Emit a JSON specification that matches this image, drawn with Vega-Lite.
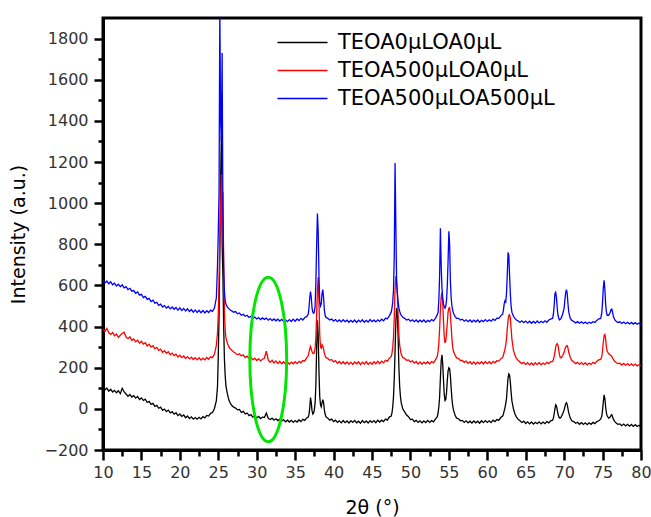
{
"$schema": "https://vega.github.io/schema/vega-lite/v6.json",
"width": 538, "height": 432,
"autosize": {"type": "none"},
"padding": {"left": 103, "top": 18, "right": 10, "bottom": 67},
"background": "white",
"config": {"view": {"stroke": "black", "strokeWidth": 3}, "font": "DejaVu Sans"},
"resolve": {"axis": {"x": "independent", "y": "independent"}},
"layer": [
{
"data": {"values": [
{"x":10,"k":104,"r":388,"b":626},{"x":10.25,"k":92,"r":376,"b":612},{"x":10.5,"k":101,"r":391,"b":621},{"x":10.75,"k":86,"r":370,"b":608},
{"x":11,"k":95,"r":362,"b":618},{"x":11.25,"k":82,"r":371,"b":603},{"x":11.5,"k":90,"r":355,"b":611},{"x":11.75,"k":78,"r":364,"b":597},
{"x":12,"k":88,"r":347,"b":606},{"x":12.25,"k":74,"r":358,"b":594},{"x":12.5,"k":100,"r":366,"b":603},{"x":12.75,"k":82,"r":372,"b":588},
{"x":13,"k":72,"r":349,"b":594},{"x":13.25,"k":61,"r":341,"b":580},{"x":13.5,"k":70,"r":350,"b":586},{"x":13.75,"k":57,"r":332,"b":572},
{"x":14,"k":64,"r":340,"b":575},{"x":14.25,"k":52,"r":326,"b":562},{"x":14.5,"k":60,"r":334,"b":568},{"x":14.75,"k":45,"r":320,"b":553},
{"x":15,"k":53,"r":329,"b":557},{"x":15.25,"k":41,"r":315,"b":541},{"x":15.5,"k":47,"r":322,"b":547},{"x":15.75,"k":31,"r":306,"b":532},
{"x":16,"k":36,"r":314,"b":537},{"x":16.25,"k":22,"r":300,"b":522},{"x":16.5,"k":27,"r":307,"b":528},{"x":16.75,"k":12,"r":292,"b":514},
{"x":17,"k":17,"r":299,"b":518},{"x":17.25,"k":3,"r":284,"b":503},{"x":17.5,"k":8,"r":290,"b":509},{"x":17.75,"k":-7,"r":275,"b":495},
{"x":18,"k":-1,"r":283,"b":502},{"x":18.25,"k":-13,"r":270,"b":490},{"x":18.5,"k":-6,"r":278,"b":498},{"x":18.75,"k":-20,"r":263,"b":486},
{"x":19,"k":-14,"r":271,"b":495},{"x":19.25,"k":-26,"r":259,"b":484},{"x":19.5,"k":-19,"r":266,"b":493},{"x":19.75,"k":-33,"r":252,"b":480},
{"x":20,"k":-25,"r":261,"b":491},{"x":20.25,"k":-37,"r":249,"b":478},{"x":20.5,"k":-30,"r":257,"b":488},{"x":20.75,"k":-43,"r":245,"b":476},
{"x":21,"k":-35,"r":254,"b":486},{"x":21.25,"k":-47,"r":243,"b":473},{"x":21.5,"k":-39,"r":251,"b":483},{"x":21.75,"k":-50,"r":240,"b":470},
{"x":22,"k":-42,"r":249,"b":481},{"x":22.25,"k":-50,"r":238,"b":469},{"x":22.5,"k":-41,"r":248,"b":479},{"x":22.75,"k":-49,"r":237,"b":467},
{"x":23,"k":-38,"r":246,"b":478},{"x":23.25,"k":-44,"r":238,"b":466},{"x":23.5,"k":-32,"r":250,"b":477},{"x":23.75,"k":-35,"r":241,"b":468},
{"x":24,"k":-22,"r":253,"b":480},{"x":24.25,"k":-18,"r":249,"b":474},{"x":24.5,"k":2,"r":266,"b":490},
{"x":24.75,"k":40,"r":310,"b":540},{"x":24.9,"k":110,"r":370,"b":700},{"x":25,"k":260,"r":460,"b":860},{"x":25.1,"k":450,"r":620,"b":1050},
{"x":25.2,"k":750,"r":820,"b":1950},{"x":25.3,"k":1100,"r":950,"b":1400},{"x":25.4,"k":1330,"r":1140,"b":1300},{"x":25.5,"k":800,"r":900,"b":1730},
{"x":25.6,"k":650,"r":1055,"b":950},{"x":25.7,"k":400,"r":720,"b":680},{"x":25.8,"k":240,"r":470,"b":570},{"x":25.9,"k":160,"r":380,"b":525},
{"x":26,"k":110,"r":345,"b":508},{"x":26.2,"k":70,"r":318,"b":494},{"x":26.4,"k":40,"r":300,"b":486},{"x":26.6,"k":25,"r":290,"b":479},
{"x":26.8,"k":15,"r":283,"b":475},{"x":27,"k":8,"r":276,"b":470},
{"x":27.25,"k":4,"r":270,"b":473},{"x":27.5,"k":-5,"r":263,"b":462},{"x":27.75,"k":-3,"r":268,"b":466},{"x":28,"k":-17,"r":257,"b":455},
{"x":28.25,"k":-12,"r":262,"b":460},{"x":28.5,"k":-25,"r":249,"b":450},{"x":28.75,"k":-20,"r":256,"b":455},{"x":29,"k":-33,"r":244,"b":444},
{"x":29.25,"k":-28,"r":251,"b":450},{"x":29.5,"k":-40,"r":238,"b":440},{"x":29.75,"k":-33,"r":246,"b":446},{"x":30,"k":-44,"r":235,"b":437},
{"x":30.25,"k":-37,"r":243,"b":444},{"x":30.5,"k":-47,"r":233,"b":434},{"x":30.75,"k":-40,"r":241,"b":442},{"x":31,"k":-42,"r":246,"b":435},
{"x":31.25,"k":-20,"r":280,"b":441},{"x":31.5,"k":-46,"r":238,"b":431},{"x":31.75,"k":-52,"r":226,"b":439},{"x":32,"k":-45,"r":236,"b":429},
{"x":32.25,"k":-55,"r":223,"b":437},{"x":32.5,"k":-48,"r":233,"b":428},{"x":32.75,"k":-57,"r":221,"b":436},{"x":33,"k":-50,"r":231,"b":427},
{"x":33.25,"k":-60,"r":219,"b":435},{"x":33.5,"k":-52,"r":229,"b":425},{"x":33.75,"k":-63,"r":218,"b":433},{"x":34,"k":-55,"r":228,"b":424},
{"x":34.25,"k":-64,"r":217,"b":434},{"x":34.5,"k":-56,"r":227,"b":425},{"x":34.75,"k":-66,"r":219,"b":436},{"x":35,"k":-57,"r":229,"b":426},
{"x":35.25,"k":-64,"r":220,"b":437},{"x":35.5,"k":-54,"r":231,"b":429},{"x":35.75,"k":-62,"r":224,"b":440},{"x":36,"k":-51,"r":235,"b":432},
{"x":36.25,"k":-56,"r":233,"b":444},{"x":36.5,"k":-44,"r":248,"b":448},
{"x":36.7,"k":-40,"r":258,"b":460},{"x":36.8,"k":-28,"r":275,"b":490},{"x":36.9,"k":5,"r":292,"b":540},{"x":37,"k":55,"r":303,"b":570},
{"x":37.1,"k":30,"r":290,"b":540},{"x":37.2,"k":-10,"r":278,"b":490},{"x":37.3,"k":-25,"r":270,"b":470},{"x":37.4,"k":-20,"r":268,"b":465},
{"x":37.5,"k":-5,"r":275,"b":470},{"x":37.6,"k":30,"r":295,"b":500},{"x":37.7,"k":120,"r":350,"b":620},{"x":37.8,"k":300,"r":460,"b":800},
{"x":37.9,"k":430,"r":580,"b":950},{"x":38,"k":360,"r":640,"b":860},{"x":38.1,"k":180,"r":520,"b":650},{"x":38.2,"k":60,"r":360,"b":520},
{"x":38.3,"k":20,"r":300,"b":500},{"x":38.4,"k":10,"r":295,"b":510},{"x":38.5,"k":30,"r":312,"b":560},{"x":38.6,"k":45,"r":305,"b":580},
{"x":38.7,"k":30,"r":290,"b":540},{"x":38.8,"k":-5,"r":270,"b":480},{"x":38.9,"k":-25,"r":258,"b":455},{"x":39,"k":-38,"r":250,"b":445},
{"x":39.25,"k":-45,"r":245,"b":440},{"x":39.5,"k":-55,"r":236,"b":432},{"x":39.75,"k":-50,"r":240,"b":437},{"x":40,"k":-62,"r":228,"b":427},
{"x":40.25,"k":-55,"r":234,"b":434},{"x":40.5,"k":-66,"r":222,"b":424},{"x":40.75,"k":-58,"r":230,"b":432},{"x":41,"k":-68,"r":219,"b":423},
{"x":41.25,"k":-57,"r":229,"b":433},{"x":41.5,"k":-67,"r":218,"b":424},{"x":41.75,"k":-59,"r":228,"b":431},{"x":42,"k":-69,"r":217,"b":421},
{"x":42.25,"k":-58,"r":227,"b":430},{"x":42.5,"k":-66,"r":216,"b":422},{"x":42.75,"k":-56,"r":228,"b":432},{"x":43,"k":-68,"r":219,"b":420},
{"x":43.25,"k":-60,"r":229,"b":431},{"x":43.5,"k":-70,"r":215,"b":423},{"x":43.75,"k":-57,"r":227,"b":433},{"x":44,"k":-67,"r":218,"b":421},
{"x":44.25,"k":-59,"r":230,"b":430},{"x":44.5,"k":-69,"r":216,"b":422},{"x":44.75,"k":-58,"r":226,"b":434},{"x":45,"k":-66,"r":217,"b":424},
{"x":45.25,"k":-57,"r":229,"b":431},{"x":45.5,"k":-67,"r":219,"b":423},{"x":45.75,"k":-55,"r":231,"b":433},{"x":46,"k":-64,"r":220,"b":425},
{"x":46.25,"k":-55,"r":232,"b":436},{"x":46.5,"k":-62,"r":224,"b":428},{"x":46.75,"k":-50,"r":236,"b":440},{"x":47,"k":-55,"r":232,"b":438},
{"x":47.25,"k":-40,"r":245,"b":452},{"x":47.5,"k":-35,"r":255,"b":470},
{"x":47.6,"k":-20,"r":270,"b":490},{"x":47.7,"k":10,"r":300,"b":520},{"x":47.8,"k":60,"r":350,"b":580},{"x":47.9,"k":150,"r":450,"b":750},
{"x":48,"k":280,"r":580,"b":1195},{"x":48.1,"k":420,"r":645,"b":900},{"x":48.2,"k":490,"r":620,"b":620},{"x":48.3,"k":470,"r":560,"b":560},
{"x":48.4,"k":350,"r":450,"b":520},{"x":48.5,"k":200,"r":360,"b":490},{"x":48.6,"k":110,"r":310,"b":475},{"x":48.7,"k":60,"r":285,"b":462},
{"x":48.8,"k":30,"r":265,"b":455},{"x":49,"k":0,"r":250,"b":445},
{"x":49.25,"k":-15,"r":245,"b":440},{"x":49.5,"k":-30,"r":236,"b":432},{"x":49.75,"k":-38,"r":238,"b":436},{"x":50,"k":-52,"r":228,"b":426},
{"x":50.25,"k":-50,"r":233,"b":433},{"x":50.5,"k":-62,"r":222,"b":424},{"x":50.75,"k":-56,"r":230,"b":432},{"x":51,"k":-66,"r":218,"b":422},
{"x":51.25,"k":-58,"r":228,"b":431},{"x":51.5,"k":-68,"r":217,"b":423},{"x":51.75,"k":-59,"r":227,"b":432},{"x":52,"k":-67,"r":219,"b":421},
{"x":52.25,"k":-56,"r":229,"b":430},{"x":52.5,"k":-66,"r":218,"b":424},{"x":52.75,"k":-57,"r":230,"b":434},{"x":53,"k":-63,"r":224,"b":428},
{"x":53.25,"k":-50,"r":238,"b":440},{"x":53.5,"k":-38,"r":255,"b":458},
{"x":53.6,"k":-20,"r":280,"b":470},{"x":53.7,"k":10,"r":320,"b":530},{"x":53.8,"k":60,"r":390,"b":650},{"x":53.9,"k":150,"r":480,"b":878},
{"x":54,"k":230,"r":545,"b":700},{"x":54.1,"k":263,"r":566,"b":590},{"x":54.2,"k":220,"r":520,"b":540},{"x":54.3,"k":140,"r":430,"b":510},
{"x":54.4,"k":70,"r":350,"b":495},{"x":54.5,"k":40,"r":320,"b":490},{"x":54.6,"k":45,"r":330,"b":500},{"x":54.7,"k":80,"r":370,"b":530},
{"x":54.8,"k":140,"r":420,"b":600},{"x":54.9,"k":185,"r":470,"b":720},{"x":55,"k":200,"r":490,"b":863},{"x":55.1,"k":195,"r":492,"b":800},
{"x":55.2,"k":160,"r":460,"b":620},{"x":55.3,"k":100,"r":400,"b":540},{"x":55.4,"k":50,"r":340,"b":500},{"x":55.5,"k":15,"r":300,"b":480},
{"x":55.6,"k":-5,"r":280,"b":465},{"x":55.8,"k":-30,"r":262,"b":450},{"x":56,"k":-45,"r":248,"b":440},
{"x":56.25,"k":-48,"r":245,"b":440},{"x":56.5,"k":-58,"r":235,"b":432},{"x":56.75,"k":-56,"r":236,"b":436},{"x":57,"k":-66,"r":226,"b":426},
{"x":57.25,"k":-58,"r":232,"b":433},{"x":57.5,"k":-68,"r":221,"b":424},{"x":57.75,"k":-60,"r":229,"b":432},{"x":58,"k":-69,"r":218,"b":422},
{"x":58.25,"k":-59,"r":228,"b":431},{"x":58.5,"k":-68,"r":217,"b":423},{"x":58.75,"k":-60,"r":227,"b":432},{"x":59,"k":-70,"r":219,"b":421},
{"x":59.25,"k":-58,"r":229,"b":430},{"x":59.5,"k":-67,"r":218,"b":424},{"x":59.75,"k":-57,"r":230,"b":434},{"x":60,"k":-66,"r":220,"b":425},
{"x":60.25,"k":-58,"r":229,"b":433},{"x":60.5,"k":-67,"r":219,"b":426},{"x":60.75,"k":-55,"r":231,"b":436},{"x":61,"k":-62,"r":224,"b":430},
{"x":61.25,"k":-52,"r":234,"b":441},{"x":61.5,"k":-55,"r":232,"b":440},{"x":61.75,"k":-42,"r":243,"b":452},
{"x":62,"k":-35,"r":250,"b":460},{"x":62.1,"k":-25,"r":262,"b":480},{"x":62.2,"k":-10,"r":275,"b":510},{"x":62.3,"k":5,"r":290,"b":525},
{"x":62.4,"k":25,"r":310,"b":520},{"x":62.5,"k":50,"r":340,"b":560},{"x":62.6,"k":100,"r":390,"b":650},{"x":62.7,"k":150,"r":430,"b":760},
{"x":62.8,"k":170,"r":455,"b":745},{"x":62.9,"k":165,"r":458,"b":650},{"x":63,"k":130,"r":440,"b":560},{"x":63.1,"k":80,"r":390,"b":500},
{"x":63.2,"k":40,"r":340,"b":470},{"x":63.4,"k":0,"r":285,"b":450},{"x":63.6,"k":-25,"r":260,"b":440},{"x":63.8,"k":-40,"r":245,"b":432},
{"x":64,"k":-50,"r":236,"b":428},
{"x":64.25,"k":-58,"r":228,"b":420},{"x":64.5,"k":-66,"r":220,"b":428},{"x":64.75,"k":-60,"r":226,"b":419},{"x":65,"k":-71,"r":215,"b":427},
{"x":65.25,"k":-63,"r":224,"b":418},{"x":65.5,"k":-73,"r":214,"b":426},{"x":65.75,"k":-64,"r":223,"b":416},{"x":66,"k":-74,"r":213,"b":425},
{"x":66.25,"k":-65,"r":224,"b":417},{"x":66.5,"k":-72,"r":215,"b":427},{"x":66.75,"k":-63,"r":225,"b":418},{"x":67,"k":-73,"r":214,"b":426},
{"x":67.25,"k":-64,"r":223,"b":419},{"x":67.5,"k":-72,"r":216,"b":428},{"x":67.75,"k":-62,"r":226,"b":421},{"x":68,"k":-68,"r":220,"b":432},
{"x":68.25,"k":-58,"r":230,"b":436},
{"x":68.5,"k":-55,"r":230,"b":440},{"x":68.6,"k":-45,"r":240,"b":460},{"x":68.7,"k":-25,"r":255,"b":500},{"x":68.8,"k":0,"r":275,"b":560},
{"x":68.9,"k":20,"r":300,"b":567},{"x":69,"k":15,"r":312,"b":540},{"x":69.1,"k":-5,"r":317,"b":490},{"x":69.2,"k":-25,"r":310,"b":455},
{"x":69.3,"k":-38,"r":285,"b":440},{"x":69.4,"k":-45,"r":262,"b":432},{"x":69.5,"k":-45,"r":250,"b":435},{"x":69.6,"k":-40,"r":248,"b":440},
{"x":69.8,"k":-25,"r":258,"b":460},{"x":70,"k":-5,"r":275,"b":490},{"x":70.1,"k":10,"r":290,"b":530},{"x":70.2,"k":25,"r":300,"b":565},
{"x":70.3,"k":30,"r":305,"b":580},{"x":70.4,"k":22,"r":307,"b":560},{"x":70.5,"k":0,"r":295,"b":510},{"x":70.6,"k":-20,"r":275,"b":470},
{"x":70.8,"k":-45,"r":250,"b":440},{"x":71,"k":-58,"r":235,"b":430},
{"x":71.25,"k":-62,"r":228,"b":425},{"x":71.5,"k":-70,"r":220,"b":418},{"x":71.75,"k":-65,"r":226,"b":424},{"x":72,"k":-75,"r":216,"b":416},
{"x":72.25,"k":-67,"r":225,"b":423},{"x":72.5,"k":-76,"r":215,"b":415},{"x":72.75,"k":-68,"r":224,"b":422},{"x":73,"k":-77,"r":214,"b":414},
{"x":73.25,"k":-68,"r":223,"b":421},{"x":73.5,"k":-75,"r":216,"b":416},{"x":73.75,"k":-66,"r":226,"b":424},{"x":74,"k":-72,"r":220,"b":420},
{"x":74.25,"k":-62,"r":232,"b":430},{"x":74.5,"k":-58,"r":238,"b":438},
{"x":74.75,"k":-50,"r":240,"b":440},{"x":74.9,"k":-35,"r":255,"b":465},{"x":75,"k":-5,"r":285,"b":520},{"x":75.1,"k":35,"r":325,"b":590},
{"x":75.2,"k":68,"r":355,"b":625},{"x":75.3,"k":50,"r":361,"b":580},{"x":75.4,"k":10,"r":340,"b":510},{"x":75.5,"k":-20,"r":300,"b":470},
{"x":75.6,"k":-35,"r":280,"b":455},{"x":75.8,"k":-45,"r":268,"b":455},{"x":76,"k":-40,"r":262,"b":470},{"x":76.1,"k":-32,"r":258,"b":482},
{"x":76.2,"k":-28,"r":254,"b":485},{"x":76.3,"k":-38,"r":248,"b":470},{"x":76.4,"k":-50,"r":240,"b":450},{"x":76.6,"k":-62,"r":230,"b":432},
{"x":76.8,"k":-70,"r":224,"b":425},{"x":77,"k":-75,"r":220,"b":420},
{"x":77.25,"k":-73,"r":222,"b":423},{"x":77.5,"k":-82,"r":213,"b":415},{"x":77.75,"k":-74,"r":221,"b":422},{"x":78,"k":-83,"r":212,"b":414},
{"x":78.25,"k":-75,"r":220,"b":421},{"x":78.5,"k":-84,"r":211,"b":413},{"x":78.75,"k":-76,"r":219,"b":420},{"x":79,"k":-85,"r":210,"b":412},
{"x":79.25,"k":-77,"r":218,"b":419},{"x":79.5,"k":-86,"r":209,"b":411},{"x":79.75,"k":-80,"r":215,"b":417},{"x":80,"k":-88,"r":210,"b":410}
]},
"transform": [{"fold": ["k", "r", "b"], "as": ["s", "v"]}],
"mark": {"type": "line", "strokeWidth": 1.3, "clip": true},
"encoding": {
"x": {"field": "x", "type": "quantitative", "scale": {"domain": [10, 80], "nice": false, "zero": false},
 "axis": {"orient": "bottom", "values": [10,15,20,25,30,35,40,45,50,55,60,65,70,75,80], "title": "2θ (°)", "grid": false,
  "tickSize": 10, "tickWidth": 2.5, "tickColor": "black", "domainColor": "black", "domainWidth": 3,
  "labelFont": "DejaVu Sans", "labelFontSize": 16, "labelColor": "#333333", "labelPadding": 4, "labelFlush": false, "labelOverlap": false,
  "titleFont": "DejaVu Sans", "titleFontSize": 19, "titleFontWeight": "normal", "titleColor": "black", "titlePadding": 18}},
"y": {"field": "v", "type": "quantitative", "scale": {"domain": [-200, 1900], "nice": false, "zero": false},
 "axis": {"orient": "left", "values": [-200,0,200,400,600,800,1000,1200,1400,1600,1800], "format": "d", "title": "Intensity (a.u.)", "grid": false,
  "tickSize": 9, "tickWidth": 2.5, "tickColor": "black", "domainColor": "black", "domainWidth": 3,
  "labelFont": "DejaVu Sans", "labelFontSize": 16, "labelColor": "#333333", "labelPadding": 6, "labelFlush": false, "labelOverlap": false,
  "titleFont": "DejaVu Sans", "titleFontSize": 19, "titleFontWeight": "normal", "titleColor": "black", "titlePadding": 16}},
"color": {"field": "s", "type": "nominal", "sort": null,
 "scale": {"domain": ["k", "r", "b"], "range": ["#000000", "#ff0000", "#0000ff"]},
 "legend": {"orient": "none", "legendX": 189, "legendY": 14, "title": null, "padding": 0,
  "symbolType": "M-5,0L5,0", "symbolSize": 100, "symbolStrokeWidth": 1.5,
  "labelFont": "DejaVu Sans", "labelFontSize": 21, "labelColor": "black", "labelOffset": 25, "rowPadding": 6, "labelLimit": 400,
  "labelExpr": "datum.value == 'k' ? 'TEOA0µLOA0µL' : datum.value == 'r' ? 'TEOA500µLOA0µL' : 'TEOA500µLOA500µL'"}}
}
},
{
"data": {"values": [{"cx": 31.5, "cy": 240}]},
"mark": {"type": "point", "shape": "M0,-1C0.1235,-1 0.2236,-0.5523 0.2236,0C0.2236,0.5523 0.1235,1 0,1C-0.1235,1 -0.2236,0.5523 -0.2236,0C-0.2236,-0.5523 -0.1235,-1 0,-1Z",
 "size": 27093, "filled": false, "stroke": "#00e600", "strokeWidth": 3, "opacity": 1},
"encoding": {
"x": {"field": "cx", "type": "quantitative", "scale": {"domain": [10, 80], "nice": false, "zero": false},
 "axis": {"orient": "bottom", "values": [12.5,17.5,22.5,27.5,32.5,37.5,42.5,47.5,52.5,57.5,62.5,67.5,72.5,77.5], "labels": false, "domain": false, "grid": false, "title": null,
  "tickSize": 6, "tickWidth": 2.5, "tickColor": "black"}},
"y": {"field": "cy", "type": "quantitative", "scale": {"domain": [-200, 1900], "nice": false, "zero": false},
 "axis": {"orient": "left", "values": [-100,100,300,500,700,900,1100,1300,1500,1700], "labels": false, "domain": false, "grid": false, "title": null,
  "tickSize": 5, "tickWidth": 2.5, "tickColor": "black"}}
}
}
]
}
